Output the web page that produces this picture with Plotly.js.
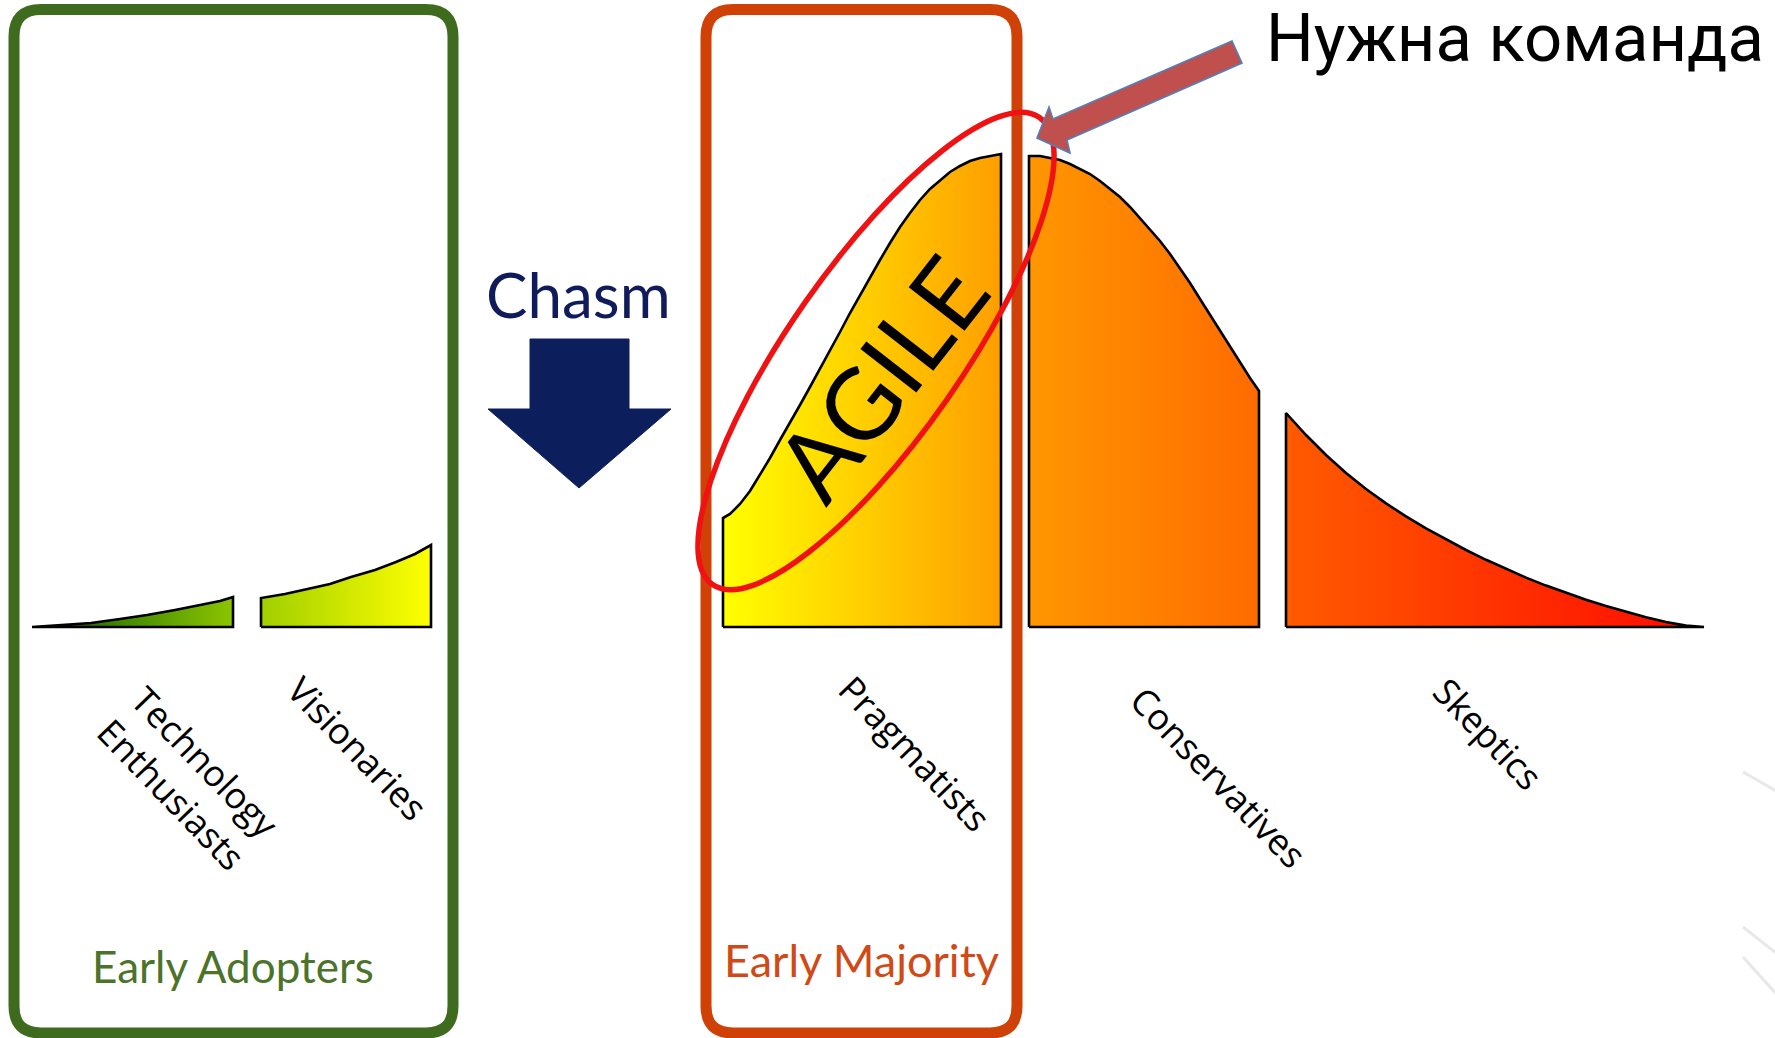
<!DOCTYPE html>
<html>
<head>
<meta charset="utf-8">
<script src="https://cdn.plot.ly/plotly-3.0.1.min.js"></script>
<style>
  html, body { margin: 0; padding: 0; background: #ffffff; }
  #chart { width: 1775px; height: 1038px; }
</style>
</head>
<body>
<div id="chart"></div>
<script>
// ---- Adoption-curve segments: x position and curve height above the baseline ----
const techX = [32, 60, 91, 120, 147, 175, 204, 220, 233];
const techH = [0, 2, 4, 8, 12, 17, 23, 26, 30];

const visionX = [261, 285, 306, 330, 351, 375, 396, 415, 431];
const visionH = [29, 33, 38, 43, 50, 57, 65, 73, 82];

const pragX = [723, 730, 740, 750, 760, 770, 780, 790, 800, 810, 820, 830, 840, 850, 860, 870, 880, 890, 900, 910, 920, 930, 940, 950, 960, 970, 980, 990, 1001];
const pragH = [109, 113, 123, 136, 152, 169, 187, 204, 222, 240, 258, 277, 295, 314, 332, 350, 367, 384, 400, 414, 427, 438, 447, 455, 461, 466, 469, 471, 473];

const consX = [1029, 1040, 1050, 1060, 1070, 1080, 1090, 1100, 1110, 1120, 1130, 1140, 1150, 1160, 1170, 1180, 1190, 1200, 1210, 1220, 1230, 1240, 1250, 1259];
const consH = [471, 471, 469, 467, 463, 458, 453, 446, 438, 430, 420, 409, 398, 386, 373, 359, 344, 328, 312, 296, 280, 264, 249, 236];

const skepX = [1286, 1306, 1326, 1346, 1366, 1386, 1406, 1426, 1446, 1466, 1486, 1506, 1526, 1546, 1566, 1586, 1606, 1626, 1646, 1666, 1686, 1704];
const skepH = [214, 192, 172, 154, 138, 123.6, 110.6, 98.6, 87.4, 77, 67.2, 58, 49.4, 41.4, 34, 27.2, 21, 15.2, 9.8, 5, 1.4, 0];

const segmentLabels = ['Technology<br>Enthusiasts', 'Visionaries', 'Pragmatists', 'Conservatives', 'Skeptics'];
const groupLabels = ['Early Adopters', 'Early Majority'];
const chasmLabel = 'Chasm';
const agileLabel = 'AGILE';
const calloutLabel = 'Нужна команда';

// ---------------- build the traces ----------------
function closedArea(xs, hs) {
  return {
    x: [xs[0]].concat(xs, [xs[xs.length - 1], xs[0]]),
    y: [0].concat(hs, [0, 0])
  };
}

const greenScale = [[0, '#1c3a00'], [0.2, '#3a8400'], [0.5, '#8cc400'], [0.57, '#9fcf00'], [1, '#ffff00']];
const warmScale = [[0, '#ffff00'], [0.3, '#ff9900'], [0.55, '#ff6a00'], [0.58, '#ff5a00'], [1, '#ff0a00']];

function areaTrace(xs, hs, scale, start, stop) {
  const p = closedArea(xs, hs);
  return {
    type: 'scatter', mode: 'lines', x: p.x, y: p.y,
    fill: 'toself',
    fillgradient: { type: 'horizontal', start: start, stop: stop, colorscale: scale },
    line: { color: '#000000', width: 2.6 },
    hoverinfo: 'skip'
  };
}

const traces = [
  areaTrace(techX, techH, greenScale, 32, 431),
  areaTrace(visionX, visionH, greenScale, 32, 431),
  areaTrace(pragX, pragH, warmScale, 723, 1704),
  areaTrace(consX, consH, warmScale, 723, 1704),
  areaTrace(skepX, skepH, warmScale, 723, 1704)
];

// ---------------- decorative shapes ----------------
function roundRect(x0, y0, x1, y1, r) {
  return `M ${x0 + r} ${y1} L ${x1 - r} ${y1} Q ${x1} ${y1} ${x1} ${y1 - r} ` +
         `L ${x1} ${y0 + r} Q ${x1} ${y0} ${x1 - r} ${y0} L ${x0 + r} ${y0} ` +
         `Q ${x0} ${y0} ${x0} ${y0 + r} L ${x0} ${y1 - r} Q ${x0} ${y1} ${x0 + r} ${y1} Z`;
}

function polyPath(pts) {
  return 'M ' + pts.map(p => p[0] + ' ' + p[1]).join(' L ') + ' Z';
}

function ellipsePath(cx, cy, a, b, deg) {
  const t = deg * Math.PI / 180, k = 0.5523;
  const u = [Math.cos(t), Math.sin(t)], v = [-Math.sin(t), Math.cos(t)];
  const P = (s, w) => [cx + s * u[0] + w * v[0], cy + s * u[1] + w * v[1]];
  const f = p => p[0].toFixed(1) + ' ' + p[1].toFixed(1);
  const P0 = P(a, 0), P1 = P(0, b), P2 = P(-a, 0), P3 = P(0, -b);
  return `M ${f(P0)} C ${f(P(a, k * b))} ${f(P(k * a, b))} ${f(P1)} ` +
         `C ${f(P(-k * a, b))} ${f(P(-a, k * b))} ${f(P2)} ` +
         `C ${f(P(-a, -k * b))} ${f(P(-k * a, -b))} ${f(P3)} ` +
         `C ${f(P(k * a, -b))} ${f(P(a, -k * b))} ${f(P0)} Z`;
}

const shapes = [
  // faint slide decoration at the right edge
  { type: 'line', x0: 1743, y0: -145, x1: 1780, y1: -166, line: { color: '#e8e8e8', width: 3 }, layer: 'below' },
  { type: 'line', x0: 1743, y0: -300, x1: 1780, y1: -329, line: { color: '#e8e8e8', width: 3 }, layer: 'below' },
  { type: 'line', x0: 1743, y0: -330, x1: 1780, y1: -371, line: { color: '#e8e8e8', width: 3 }, layer: 'below' },
  // group boxes
  { type: 'path', path: roundRect(14, -406, 453, 617.5, 27), line: { color: '#3f6b1f', width: 11 } },
  { type: 'path', path: roundRect(706, -406, 1017, 617.5, 27), line: { color: '#cf4106', width: 11 } },
  // chasm arrow
  { type: 'path', path: polyPath([[530, 288], [629, 288], [629, 218], [671, 218], [579, 139], [488, 218], [530, 218]]),
    fillcolor: '#0c1f5c', line: { color: '#0c1f5c', width: 1 } },
  // red ellipse around AGILE
  { type: 'path', path: ellipsePath(876, 276, 285, 86, 55), line: { color: '#f01212', width: 5.5 } },
  // callout arrow
  { type: 'path', path: polyPath([[1232, 586], [1053, 508], [1049, 520], [1037, 489], [1070, 474], [1067, 487], [1242, 564]]),
    fillcolor: '#c0504d', line: { color: '#4f81bd', width: 1.6 } }
];

// ---------------- text ----------------
const labelPos = [[188, -151], [358, -121], [915, -126], [1219, -150], [1488, -106]];
const annotations = segmentLabels.map((t, i) => ({
  x: labelPos[i][0], y: labelPos[i][1], text: t, showarrow: false,
  textangle: 46, align: 'center', xanchor: 'center', yanchor: 'middle',
  font: { family: 'Open Sans', size: 36, color: '#000000' }
}));

annotations.push(
  { x: 233, y: -339, text: groupLabels[0], showarrow: false, xanchor: 'center', yanchor: 'middle',
    font: { family: 'Lato', size: 44, color: '#4b7329' } },
  { x: 861, y: -333, text: groupLabels[1], showarrow: false, xanchor: 'center', yanchor: 'middle',
    font: { family: 'Lato', size: 45, color: '#cf4a16' } },
  { x: 578, y: 333, text: chasmLabel, showarrow: false, xanchor: 'center', yanchor: 'middle',
    font: { family: 'Lato', size: 62, color: '#101b5c' } },
  { x: 879, y: 250, text: agileLabel, showarrow: false, textangle: -52, xanchor: 'center', yanchor: 'middle',
    font: { family: 'Lato', size: 99, color: '#000000' } },
  { x: 1515, y: 589, text: calloutLabel, showarrow: false, xanchor: 'center', yanchor: 'middle',
    font: { family: 'Roboto', size: 67, color: '#000000' } }
);

const layout = {
  width: 1775, height: 1038,
  margin: { l: 0, r: 0, t: 0, b: 0, pad: 0 },
  paper_bgcolor: '#ffffff', plot_bgcolor: '#ffffff',
  showlegend: false,
  xaxis: { range: [0, 1775], visible: false, fixedrange: true },
  yaxis: { range: [-411, 627], visible: false, fixedrange: true },
  shapes: shapes,
  annotations: annotations
};

Plotly.newPlot('chart', traces, layout, { displayModeBar: false, staticPlot: true });
</script>
</body>
</html>
